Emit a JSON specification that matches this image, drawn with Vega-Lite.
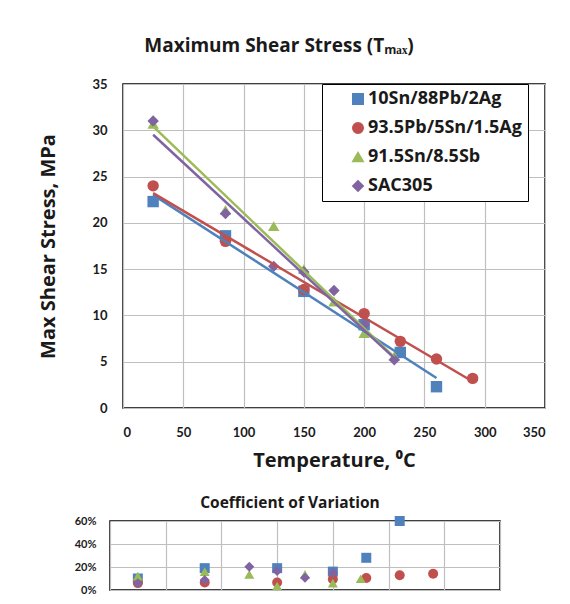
{
  "$schema": "https://vega.github.io/schema/vega-lite/v6.json",
  "padding": {"left": 38, "top": 36, "right": 0, "bottom": 0},
  "background": "white",
  "datasets": {
    "main": [
      {"series": "10Sn/88Pb/2Ag", "temp": 25, "stress": 22.3},
      {"series": "10Sn/88Pb/2Ag", "temp": 85, "stress": 18.6},
      {"series": "10Sn/88Pb/2Ag", "temp": 150, "stress": 12.6},
      {"series": "10Sn/88Pb/2Ag", "temp": 200, "stress": 9.0},
      {"series": "10Sn/88Pb/2Ag", "temp": 230, "stress": 6.0},
      {"series": "10Sn/88Pb/2Ag", "temp": 260, "stress": 2.3},
      {"series": "93.5Pb/5Sn/1.5Ag", "temp": 25, "stress": 24.0},
      {"series": "93.5Pb/5Sn/1.5Ag", "temp": 85, "stress": 18.0},
      {"series": "93.5Pb/5Sn/1.5Ag", "temp": 150, "stress": 12.8},
      {"series": "93.5Pb/5Sn/1.5Ag", "temp": 200, "stress": 10.2},
      {"series": "93.5Pb/5Sn/1.5Ag", "temp": 230, "stress": 7.2},
      {"series": "93.5Pb/5Sn/1.5Ag", "temp": 260, "stress": 5.3},
      {"series": "93.5Pb/5Sn/1.5Ag", "temp": 290, "stress": 3.2},
      {"series": "91.5Sn/8.5Sb", "temp": 25, "stress": 30.7},
      {"series": "91.5Sn/8.5Sb", "temp": 85, "stress": 21.4},
      {"series": "91.5Sn/8.5Sb", "temp": 125, "stress": 19.65},
      {"series": "91.5Sn/8.5Sb", "temp": 150, "stress": 15.0},
      {"series": "91.5Sn/8.5Sb", "temp": 175, "stress": 11.5},
      {"series": "91.5Sn/8.5Sb", "temp": 200, "stress": 8.1},
      {"series": "91.5Sn/8.5Sb", "temp": 225, "stress": 5.6},
      {"series": "SAC305", "temp": 25, "stress": 31.0},
      {"series": "SAC305", "temp": 85, "stress": 21.0},
      {"series": "SAC305", "temp": 125, "stress": 15.3},
      {"series": "SAC305", "temp": 150, "stress": 14.7},
      {"series": "SAC305", "temp": 175, "stress": 12.7},
      {"series": "SAC305", "temp": 200, "stress": 9.0},
      {"series": "SAC305", "temp": 225, "stress": 5.2}
    ],
    "cov": [
      {"series": "10Sn/88Pb/2Ag", "temp": 25, "cov": 0.10},
      {"series": "10Sn/88Pb/2Ag", "temp": 85, "cov": 0.19},
      {"series": "10Sn/88Pb/2Ag", "temp": 150, "cov": 0.19},
      {"series": "10Sn/88Pb/2Ag", "temp": 200, "cov": 0.16},
      {"series": "10Sn/88Pb/2Ag", "temp": 230, "cov": 0.28},
      {"series": "10Sn/88Pb/2Ag", "temp": 260, "cov": 0.60},
      {"series": "93.5Pb/5Sn/1.5Ag", "temp": 25, "cov": 0.06},
      {"series": "93.5Pb/5Sn/1.5Ag", "temp": 85, "cov": 0.065},
      {"series": "93.5Pb/5Sn/1.5Ag", "temp": 150, "cov": 0.065},
      {"series": "93.5Pb/5Sn/1.5Ag", "temp": 200, "cov": 0.093},
      {"series": "93.5Pb/5Sn/1.5Ag", "temp": 230, "cov": 0.105},
      {"series": "93.5Pb/5Sn/1.5Ag", "temp": 260, "cov": 0.128},
      {"series": "93.5Pb/5Sn/1.5Ag", "temp": 290, "cov": 0.142},
      {"series": "91.5Sn/8.5Sb", "temp": 25, "cov": 0.12},
      {"series": "91.5Sn/8.5Sb", "temp": 85, "cov": 0.16},
      {"series": "91.5Sn/8.5Sb", "temp": 125, "cov": 0.136},
      {"series": "91.5Sn/8.5Sb", "temp": 150, "cov": 0.035},
      {"series": "91.5Sn/8.5Sb", "temp": 175, "cov": 0.136},
      {"series": "91.5Sn/8.5Sb", "temp": 200, "cov": 0.06},
      {"series": "91.5Sn/8.5Sb", "temp": 225, "cov": 0.098},
      {"series": "SAC305", "temp": 25, "cov": 0.058},
      {"series": "SAC305", "temp": 85, "cov": 0.087},
      {"series": "SAC305", "temp": 125, "cov": 0.203},
      {"series": "SAC305", "temp": 150, "cov": 0.165},
      {"series": "SAC305", "temp": 175, "cov": 0.107},
      {"series": "SAC305", "temp": 200, "cov": 0.15}
    ]
  },
  "config": {
    "font": "Lato",
    "view": {"stroke": "black", "strokeWidth": 1.5},
    "axis": {
      "domain": false,
      "ticks": false,
      "gridColor": "#bfbfbf",
      "gridWidth": 1.2,
      "labelFont": "Lato",
      "labelFontWeight": "bold",
      "labelColor": "#1a1a1a",
      "titleFont": "Open Sans",
      "titleFontWeight": "bold",
      "titleColor": "#1a1a1a"
    },
    "legend": {
      "title": null,
      "fillColor": "white",
      "strokeColor": "black",
      "padding": 6,
      "labelFont": "Open Sans",
      "labelFontSize": 18,
      "labelFontWeight": "bold",
      "labelColor": "#1a1a1a",
      "symbolSize": 110,
      "rowPadding": 11,
      "symbolOffset": 21,
      "labelOffset": 1
    },
    "title": {"font": "Open Sans", "color": "#1a1a1a", "fontWeight": "bold"}
  },
  "concat": [
    {
      "hconcat": [
        {
          "width": 1,
          "height": 1,
          "view": {"stroke": null},
          "data": {"values": []},
          "mark": "point"
        },
        {
          "width": 422,
          "height": 324,
          "title": {"text": "Maximum Shear Stress (Tₘₐₓ)", "fontSize": 19, "anchor": "middle", "dx": -55, "offset": 22},
          "layer": [
            {
              "data": {"name": "main"},
              "mark": {"type": "point", "filled": true, "opacity": 1, "size": 130},
              "encoding": {
                "x": {"field": "temp", "type": "quantitative", "scale": {"domain": [0, 350], "nice": false},
                  "axis": {"values": [0, 50, 100, 150, 200, 250, 300, 350], "title": "Temperature, ⁰C", "labelFontSize": 13, "labelPadding": 18, "titleFontSize": 20, "titlePadding": 11}},
                "y": {"field": "stress", "type": "quantitative", "scale": {"domain": [0, 35], "nice": false},
                  "axis": {"values": [0, 5, 10, 15, 20, 25, 30, 35], "title": "Max Shear Stress, MPa", "labelFontSize": 13, "labelPadding": 16, "titleFontSize": 20, "titlePadding": 33}},
                "color": {"field": "series", "type": "nominal",
                  "scale": {"domain": ["10Sn/88Pb/2Ag", "93.5Pb/5Sn/1.5Ag", "91.5Sn/8.5Sb", "SAC305"], "range": ["#4F81BD", "#C0504D", "#9BBB59", "#8064A2"]},
                  "legend": {"orient": "none", "legendX": 212, "legendY": 0}},
                "shape": {"field": "series", "type": "nominal",
                  "scale": {"domain": ["10Sn/88Pb/2Ag", "93.5Pb/5Sn/1.5Ag", "91.5Sn/8.5Sb", "SAC305"], "range": ["square", "circle", "triangle-up", "diamond"]},
                  "legend": {"orient": "none", "legendX": 212, "legendY": 0}}
              }
            },
            {
              "data": {"name": "main"},
              "transform": [{"regression": "stress", "on": "temp", "groupby": ["series"]}],
              "mark": {"type": "line", "strokeWidth": 2.5},
              "encoding": {
                "x": {"field": "temp", "type": "quantitative"},
                "y": {"field": "stress", "type": "quantitative"},
                "color": {"field": "series", "type": "nominal", "legend": null}
              }
            }
          ]
        }
      ],
      "spacing": 12,
      "bounds": "flush"
    },
    {
      "width": 390,
      "height": 69,
      "title": {"text": "Coefficient of Variation", "fontSize": 15.5, "anchor": "middle", "dx": -15, "offset": 4},
      "data": {"name": "cov"},
      "mark": {"type": "point", "filled": true, "opacity": 1, "size": 100},
      "encoding": {
        "x": {"field": "temp", "type": "quantitative", "scale": {"domain": [0, 350], "nice": false},
          "axis": {"values": [0, 50, 100, 150, 200, 250, 300, 350], "labels": false, "title": null}},
        "y": {"field": "cov", "type": "quantitative", "scale": {"domain": [0, 0.6], "nice": false},
          "axis": {"values": [0, 0.2, 0.4, 0.6], "format": ".0%", "title": null, "labelFontSize": 11, "labelPadding": 14}},
        "color": {"field": "series", "type": "nominal", "legend": null,
          "scale": {"domain": ["10Sn/88Pb/2Ag", "93.5Pb/5Sn/1.5Ag", "91.5Sn/8.5Sb", "SAC305"], "range": ["#4F81BD", "#C0504D", "#9BBB59", "#8064A2"]}},
        "shape": {"field": "series", "type": "nominal", "legend": null,
          "scale": {"domain": ["10Sn/88Pb/2Ag", "93.5Pb/5Sn/1.5Ag", "91.5Sn/8.5Sb", "SAC305"], "range": ["square", "circle", "triangle-up", "diamond"]}}
      }
    }
  ],
  "columns": 1,
  "align": "none",
  "spacing": 23,
  "resolve": {"scale": {"color": "independent", "shape": "independent"}}
}
